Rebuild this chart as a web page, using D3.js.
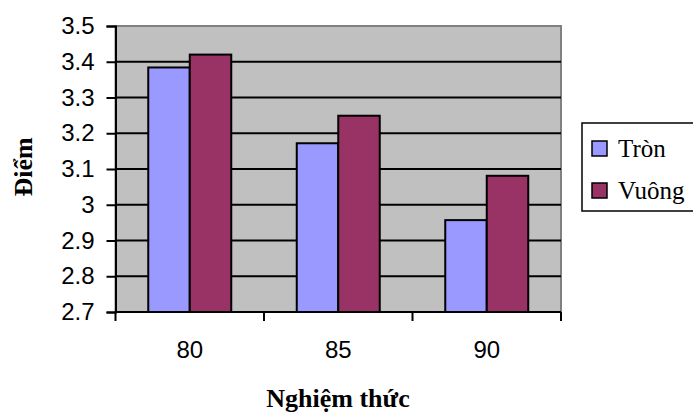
<!DOCTYPE html>
<html>
<head>
<meta charset="utf-8">
<script src="https://cdn.jsdelivr.net/npm/d3@7"></script>
<style>
  body { margin: 0; background: #fff; }
</style>
</head>
<body>
<div id="chart"></div>
<script>
const categories = ["80", "85", "90"];
const seriesNames = ["Tròn", "Vuông"];
const tronValues = [3.384, 3.172, 2.957];
const vuongValues = [3.42, 3.249, 3.081];
const yTicks = [2.7, 2.8, 2.9, 3.0, 3.1, 3.2, 3.3, 3.4, 3.5];
const colors = ["#9999FF", "#993366"];

const width = 693, height = 416;
const plot = { left: 115.5, right: 561, top: 26, bottom: 312 };

const svg = d3.select("#chart").append("svg")
  .attr("width", width)
  .attr("height", height);

svg.append("rect").attr("width", width).attr("height", height).attr("fill", "#fff");

const x0 = d3.scaleBand().domain(categories).range([plot.left, plot.right]);
const gap = 32.75;
const x1 = d3.scaleBand().domain(seriesNames).range([gap, x0.bandwidth() - gap]);
const y = d3.scaleLinear().domain([2.7, 3.5]).range([plot.bottom, plot.top]);

// plot background
svg.append("rect")
  .attr("x", plot.left).attr("y", plot.top)
  .attr("width", plot.right - plot.left)
  .attr("height", plot.bottom - plot.top)
  .attr("fill", "#C0C0C0")
  .attr("stroke", "#808080")
  .attr("stroke-width", 2);

// gridlines
svg.append("g")
  .selectAll("line")
  .data(yTicks.slice(1, -1))
  .enter().append("line")
  .attr("x1", plot.left).attr("x2", plot.right)
  .attr("y1", d => y(d)).attr("y2", d => y(d))
  .attr("stroke", "#000")
  .attr("stroke-width", 2);

// bars
const rows = categories.map((c, i) => ({ cat: c, values: [tronValues[i], vuongValues[i]] }));
svg.append("g")
  .selectAll("g")
  .data(rows)
  .enter().append("g")
  .attr("transform", d => `translate(${x0(d.cat)},0)`)
  .selectAll("rect")
  .data(d => d.values.map((v, j) => ({ name: seriesNames[j], value: v, color: colors[j] })))
  .enter().append("rect")
  .attr("x", d => x1(d.name))
  .attr("y", d => y(d.value))
  .attr("width", x1.bandwidth())
  .attr("height", d => plot.bottom - y(d.value))
  .attr("fill", d => d.color)
  .attr("stroke", "#000")
  .attr("stroke-width", 2);

// y axis
const yAxis = svg.append("g")
  .attr("transform", `translate(${plot.left},0)`)
  .call(d3.axisLeft(y).tickValues(yTicks).tickSize(9).tickPadding(12)
    .tickFormat(d => String(+d.toFixed(1))));
yAxis.select(".domain").attr("stroke", "#000").attr("stroke-width", 2);
yAxis.selectAll(".tick line").attr("stroke", "#000").attr("stroke-width", 2);
yAxis.selectAll("text")
  .attr("font-family", "'Liberation Sans', Arial, sans-serif")
  .attr("font-size", 24)
  .attr("fill", "#000");

// x axis: ticks at category boundaries
const xAxisG = svg.append("g").attr("transform", `translate(0,${plot.bottom})`);
xAxisG.append("line")
  .attr("x1", plot.left).attr("x2", plot.right)
  .attr("stroke", "#000").attr("stroke-width", 2);
const boundaries = categories.map(c => x0(c)).concat([x0(categories[categories.length - 1]) + x0.bandwidth()]);
xAxisG.selectAll("line.tick")
  .data(boundaries)
  .enter().append("line")
  .attr("class", "tick")
  .attr("x1", d => d).attr("x2", d => d)
  .attr("y1", 0).attr("y2", 9)
  .attr("stroke", "#000").attr("stroke-width", 2);
xAxisG.selectAll("text")
  .data(categories)
  .enter().append("text")
  .attr("x", d => x0(d) + x0.bandwidth() / 2)
  .attr("y", 46)
  .attr("text-anchor", "middle")
  .attr("font-family", "'Liberation Sans', Arial, sans-serif")
  .attr("font-size", 24)
  .attr("fill", "#000")
  .text(d => d);

// axis titles
svg.append("text")
  .attr("x", 338)
  .attr("y", 407)
  .attr("text-anchor", "middle")
  .attr("font-family", "'Liberation Serif', 'Times New Roman', serif")
  .attr("font-weight", "bold")
  .attr("font-size", 26)
  .text("Nghiệm thức");

svg.append("text")
  .attr("transform", "translate(32,167) rotate(-90)")
  .attr("text-anchor", "middle")
  .attr("font-family", "'Liberation Serif', 'Times New Roman', serif")
  .attr("font-weight", "bold")
  .attr("font-size", 26)
  .text("Điểm");

// legend
const legend = svg.append("g").attr("transform", "translate(582,123)");
legend.append("rect")
  .attr("width", 130).attr("height", 88)
  .attr("fill", "#fff")
  .attr("stroke", "#000")
  .attr("stroke-width", 1.5);
const items = legend.selectAll("g.item")
  .data(seriesNames)
  .enter().append("g")
  .attr("class", "item")
  .attr("transform", (d, i) => `translate(10,${25 + i * 42})`);
items.append("rect")
  .attr("x", 0).attr("y", -7)
  .attr("width", 15).attr("height", 15)
  .attr("fill", (d, i) => colors[i])
  .attr("stroke", "#000")
  .attr("stroke-width", 1.5);
items.append("text")
  .attr("x", 26)
  .attr("y", 9)
  .attr("font-family", "'Liberation Serif', 'Times New Roman', serif")
  .attr("font-size", 25)
  .text(d => d);
</script>
</body>
</html>
